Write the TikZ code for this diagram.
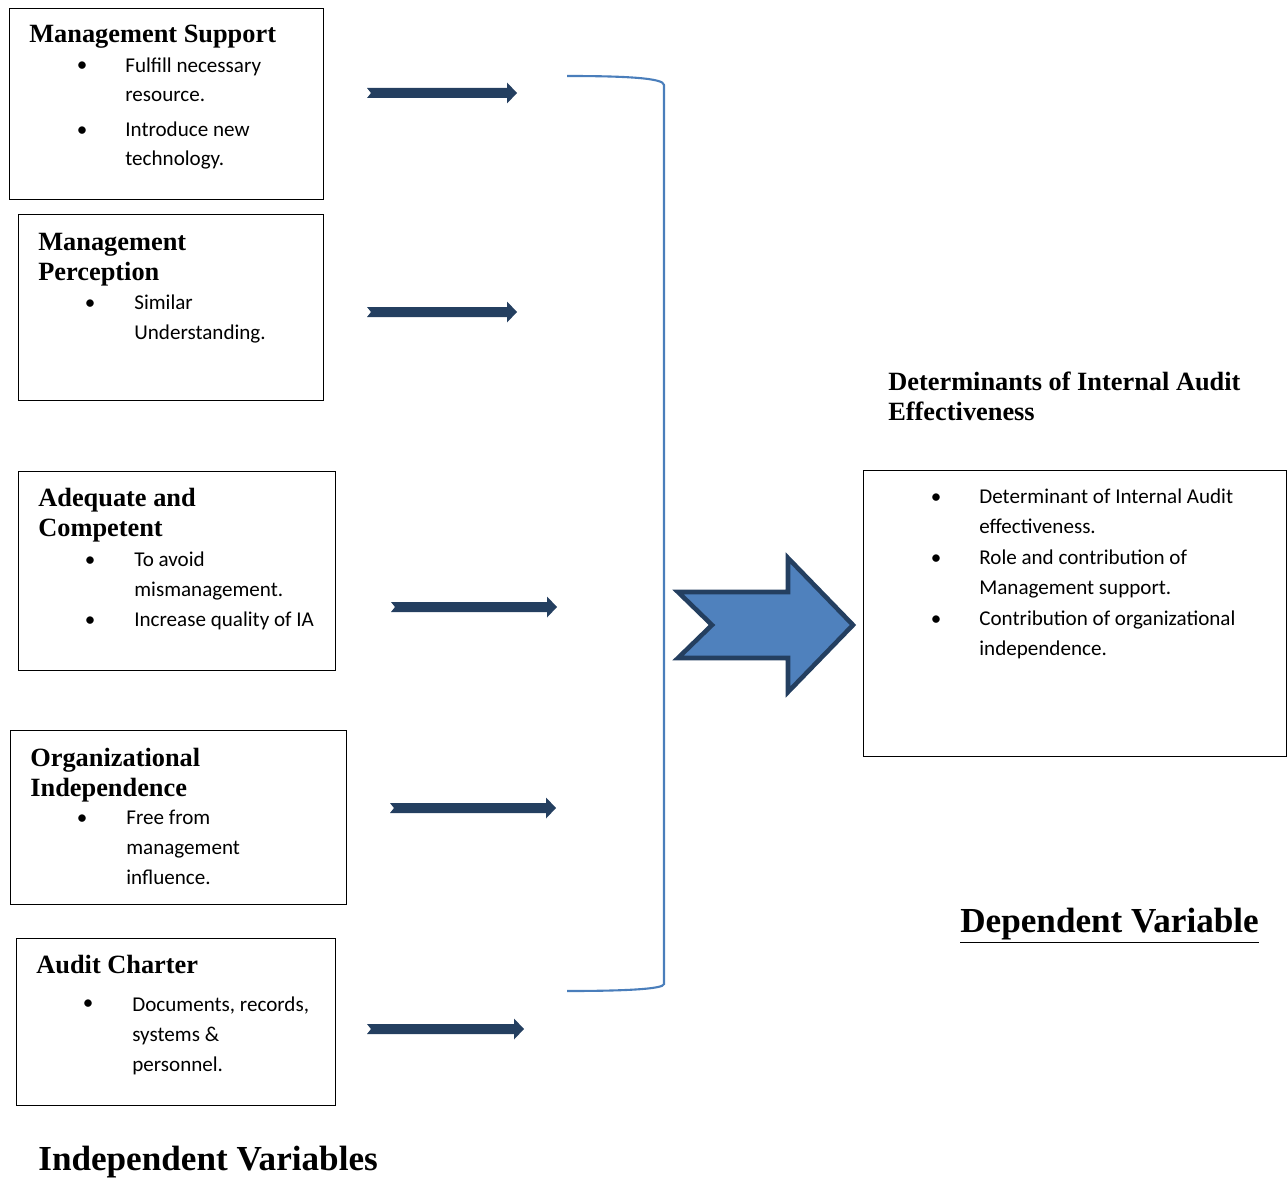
\documentclass[tikz,border=0pt]{standalone}
\usepackage{fontspec}
\setmainfont{Liberation Serif}
\newfontfamily\calibri{Carlito}
\usetikzlibrary{positioning}
\definecolor{navy}{HTML}{243F60}
\definecolor{bracketblue}{HTML}{4A7EBB}
\definecolor{arrowfill}{HTML}{4F81BD}

\newcommand{\headfont}{\fontsize{15}{17}\selectfont\bfseries}
\newcommand{\bodyfont}{\calibri\fontsize{12}{17}\selectfont}
% x from, x to, y
\newcommand{\flowarrow}[3]{%
  \fill[navy] (#1,#3-5) -- (#2-10,#3-5) -- (#2-10,#3-10.5) -- (#2,#3)
    -- (#2-10,#3+10.5) -- (#2-10,#3+5) -- (#1,#3+5) -- (#1+4,#3) -- cycle;}

\begin{document}
\begin{tikzpicture}[x=0.02cm,y=-0.02cm]
	\tikzstyle{box}=[draw,anchor=north west,inner sep=0pt,line width=0.6pt]
	\tikzstyle{head}=[anchor=base west,inner sep=0pt,align=left,font=\headfont]
	\tikzstyle{item}=[anchor=base west,inner sep=0pt,align=left,font=\bodyfont]
	\tikzstyle{dot}=[anchor=base,inner sep=0pt,font=\bodyfont]
	\tikzstyle{title}=[anchor=base west,inner sep=0pt,font=\fontsize{20}{24}\selectfont\bfseries]

	\useasboundingbox (0,0) rectangle (1287,1179);

	\node[box,minimum width=6.28cm,minimum height=3.82cm] (b1) at (9,8) {};
	\node[box,minimum width=6.10cm,minimum height=3.72cm] (b2) at (18,214) {};
	\node[box,minimum width=6.34cm,minimum height=3.98cm] (b3) at (18,471) {};
	\node[box,minimum width=6.72cm,minimum height=3.48cm] (b4) at (10,730) {};
	\node[box,minimum width=6.38cm,minimum height=3.34cm] (b5) at (16,938) {};
	\node[box,minimum width=8.46cm,minimum height=5.72cm] (dep) at (863,470) {};

	% multi-line nodes sit on the baseline of their last line
	\node[head] (h1) at (29,43) {Management Support};
	\node[dot] (d1a) at (82,72) {•};
	\node[item] (t1a) at (125,102) {Fulfill necessary\\resource.};
	\node[dot] (d1b) at (82,137) {•};
	\node[item] (t1b) at (125,166) {Introduce new\\technology.};

	\node[head] (h2) at (38,280) {Management\\Perception};
	\node[dot] (d2a) at (90,309) {•};
	\node[item] (t2a) at (134,339) {Similar\\Understanding.};

	\node[head] (h3) at (38,536) {Adequate and\\Competent};
	\node[dot] (d3a) at (90,566) {•};
	\node[item] (t3a) at (134,596) {To avoid\\mismanagement.};
	\node[dot] (d3b) at (90,626) {•};
	\node[item] (t3b) at (134,626) {Increase quality of IA};

	\node[head] (h4) at (30,796) {Organizational\\Independence};
	\node[dot] (d4a) at (82,824) {•};
	\node[item] (t4a) at (126,884) {Free from\\management\\influence.};

	\node[head] (h5) at (36,973) {Audit Charter};
	\node[dot] (d5a) at (88,1009) {•};
	\node[item] (t5a) at (132,1071) {Documents, records,\\systems \&\\personnel.};

	\node[head] (hd) at (888,420) {Determinants of Internal Audit\\Effectiveness};
	\node[dot] (d6a) at (936,503) {•};
	\node[item] (t6a) at (979,533) {Determinant of Internal Audit\\effectiveness.};
	\node[dot] (d6b) at (936,564) {•};
	\node[item] (t6b) at (979,594) {Role and contribution of\\Management support.};
	\node[dot] (d6c) at (936,625) {•};
	\node[item] (t6c) at (979,655) {Contribution of organizational\\independence.};

	\node[title] (dv) at (960,932) {\underline{Dependent Variable}};
	\node[title] (iv) at (38,1170) {\underline{Independent Variables}};

	\flowarrow{367}{517}{93}
	\flowarrow{367}{517}{312}
	\flowarrow{391}{557}{607}
	\flowarrow{390}{556}{808}
	\flowarrow{367}{524}{1029}

	\draw[bracketblue,line width=1.2pt] (567,76) .. controls (625,76) and (664,78) .. (664,85)
		-- (664,984) .. controls (664,989) and (625,991) .. (567,991);

	\draw[navy,fill=arrowfill,line width=2.6pt,line join=miter] (678,592) -- (788,592) -- (788,558)
		-- (853,625) -- (788,692) -- (788,658) -- (678,658) -- (712,625) -- cycle;
\end{tikzpicture}
\end{document}
